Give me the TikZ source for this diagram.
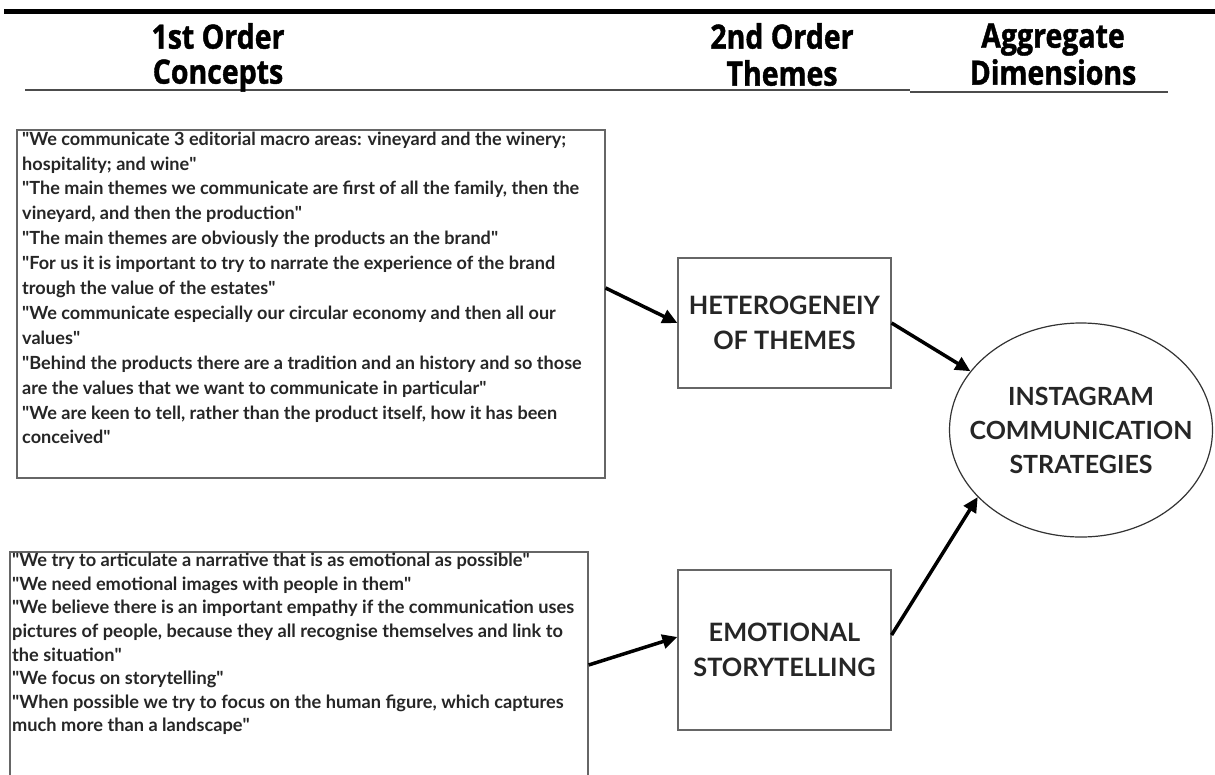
\documentclass[tikz,border=0pt]{standalone}
\usepackage{fontspec}
\setmainfont{Lato}
\newfontfamily\headfont[FakeStretch=0.85, BoldFeatures={FakeBold=1.2}]{Open Sans}
\newcommand\qq{\textquotedbl}
\usetikzlibrary{arrows.meta,calc,shapes.geometric}
\begin{document}
\begin{tikzpicture}[x=1pt,y=-1pt,
  quote/.style={font=\bfseries\fontsize{18.1}{24.9}\selectfont, align=left, anchor=north west, inner sep=0pt, text=black!85},
  quoteb/.style={quote, font=\bfseries\fontsize{18.2}{23.6}\selectfont},
  frame/.style={draw=black!60, line width=1.2pt, rectangle, inner sep=0pt},
  theme/.style={frame, minimum width=213pt, align=center, font=\bfseries\fontsize{25.3}{35}\selectfont, text=black!85},
  head/.style={font=\headfont\bfseries\fontsize{33.5}{35}\selectfont, align=center, anchor=north, inner sep=0pt},
  link/.style={line width=3.5pt, -{Triangle[length=15pt,width=14pt]}}]
\clip (0,0) rectangle (1215,774);
\fill[white] (0,0) rectangle (1215,774);
% header rules
\draw[line width=5pt] (4,11) -- (1215,11);
\draw[line width=2.5pt, black!70] (25,90) -- (910,90);
\draw[line width=2.5pt, black!70] (910,92) -- (1168,92);
% headers
\node[head] (h1) at (218,23) {\strut 1st Order\\Concepts};
\node[head] (h2) at (782,23) {\strut 2nd Order\\Themes};
\node[head] (h3) at (1053,23) {\strut Aggregate\\Dimensions};
% quote boxes
\node[frame, minimum width=588pt, minimum height=348pt] (q1) at (311,304) {};
\node[quote] (q1t) at (22,131.5) {\qq We communicate 3 editorial macro areas: vineyard and the winery;\\
hospitality; and wine\qq\\
\qq The main themes we communicate are first of all the family, then the\\
vineyard, and then the production\qq\\
\qq The main themes are obviously the products an the brand\qq\\
\qq For us it is important to try to narrate the experience of the brand\\
trough the value of the estates\qq\\
\qq We communicate especially our circular economy and then all our\\
values\qq\\
\qq Behind the products there are a tradition and an history and so those\\
are the values that we want to communicate in particular\qq\\
\qq We are keen to tell, rather than the product itself, how it has been\\
conceived\qq};
\node[frame, minimum width=578pt, minimum height=248pt] (q2) at (299,676) {};
\node[quoteb] (q2t) at (12,553) {\qq We try to articulate a narrative that is as emotional as possible\qq\\
\qq We need emotional images with people in them\qq\\
\qq We believe there is an important empathy if the communication uses\\
pictures of people, because they all recognise themselves and link to\\
the situation\qq\\
\qq We focus on storytelling\qq\\
\qq When possible we try to focus on the human figure, which captures\\
much more than a landscape\qq};
% themes
\node[theme, minimum height=130pt] (t1) at (784.5,323) {HETEROGENEIY\\OF THEMES};
\node[theme, minimum height=160pt] (t2) at (784.5,650) {EMOTIONAL\\STORYTELLING};
% aggregate
\node[ellipse, draw=black!80, line width=1.2pt, minimum width=263pt, minimum height=214pt, inner sep=0pt] (agg) at (1081,430) {};
\node[align=center, font=\bfseries\fontsize{25}{34}\selectfont, text=black!85, inner sep=0pt] (aggt) at (agg.center) {INSTAGRAM\\COMMUNICATION\\STRATEGIES};
% connectors
\draw[link] ($(q1.east)+(0,-16)$) -- (t1.west);
\draw[link] (t1.east) -- (agg.152);
\draw[link] ($(q2.east)+(0,-11)$) -- ($(t2.west)+(0,-13)$);
\draw[link] ($(t2.east)+(0,-15)$) -- (agg.213);
\end{tikzpicture}
\end{document}
